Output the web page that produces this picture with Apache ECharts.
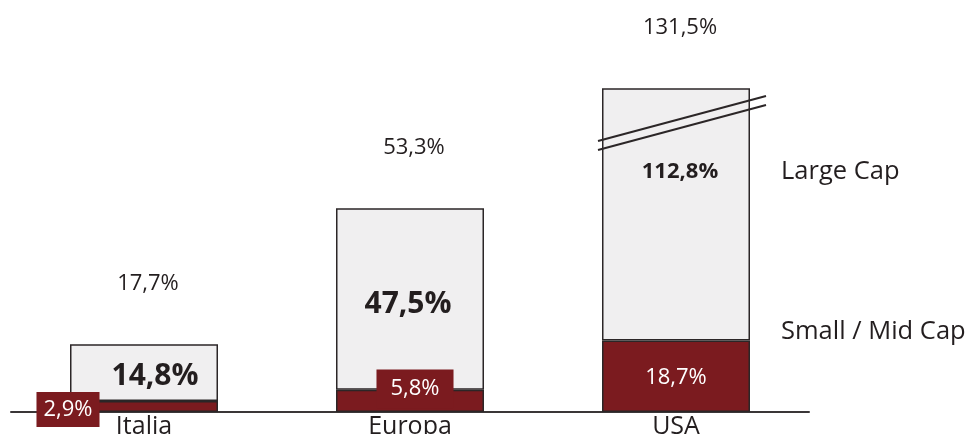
<!DOCTYPE html>
<html>
<head>
<meta charset="utf-8">
<script src="https://cdn.jsdelivr.net/npm/echarts@6/dist/echarts.min.js"></script>
<style>
  html, body { margin: 0; padding: 0; background: #ffffff; }
  #chart { width: 970px; height: 434px; }
</style>
</head>
<body>
<div id="chart"></div>
<script>
// Market capitalisation as % of GDP, split by company size
const categories = ['Italia', 'Europa', 'USA'];
const smallMidCap = [2.9, 5.8, 18.7];
const largeCap = [14.8, 47.5, 112.8];
const totalCap = [17.7, 53.3, 131.5];

const FONT = '"Open Sans", "DejaVu Sans", sans-serif';
const INK = '#231e1f';
const RED = '#7b1b1f';
const GREY = '#f0eff0';
const EDGE = '#2b2627';
const Y_MAX = 84.5;          // axis is broken above this value
const BAR_W = 148;

const pct = v => v.toFixed(1).replace('.', ',') + '%';

// per-bar label tweaks for the lower segment
const smallLabelStyle = [
  { backgroundColor: RED, padding: [4, 7, 4, 7], offset: [-76, 3] },
  { backgroundColor: RED, padding: [6, 14, 6, 14], offset: [5, -12] },
  { offset: [0, 1] }
];
// per-bar label tweaks for the upper segment
const largeLabelStyle = [
  { offset: [11, 4] },
  { offset: [-2, 5] },
  { fontSize: 22, offset: [4, -43] }
];

const chart = echarts.init(document.getElementById('chart'), null, { renderer: 'canvas' });

const legendText = { fontFamily: FONT, fontSize: 25.5, fontWeight: 500, color: INK };

chart.setOption({
  animation: false,
  backgroundColor: '#ffffff',
  grid: {
    left: 11, right: 161, top: 89, bottom: 22,
    containLabel: false, outerBoundsMode: 'none'
  },
  legend: [
    {
      data: ['Large Cap'], left: 771, top: 154, icon: 'none', itemWidth: 0, itemGap: 0,
      selectedMode: false, textStyle: legendText
    },
    {
      data: ['Small / Mid Cap'], left: 771, top: 314, icon: 'none', itemWidth: 0, itemGap: 0,
      selectedMode: false, textStyle: legendText
    }
  ],
  xAxis: {
    type: 'category',
    data: categories,
    axisLine: { lineStyle: { color: '#3a3637', width: 2 } },
    axisTick: { show: false },
    axisLabel: { fontFamily: FONT, fontSize: 25, fontWeight: 500, color: INK, margin: 2 }
  },
  yAxis: { type: 'value', min: 0, max: Y_MAX, show: false, splitLine: { show: false } },
  series: [
    {
      name: 'Small / Mid Cap',
      type: 'bar',
      stack: 'cap',
      barWidth: BAR_W,
      itemStyle: { color: RED, borderColor: EDGE, borderWidth: 1.5 },
      label: {
        show: true, position: 'inside', formatter: p => pct(p.value),
        fontFamily: FONT, fontSize: 22, fontWeight: 500, lineHeight: 27, color: '#ffffff'
      },
      data: smallMidCap.map((v, i) => ({ value: v, label: smallLabelStyle[i] }))
    },
    {
      name: 'Large Cap',
      type: 'bar',
      stack: 'cap',
      barWidth: BAR_W,
      itemStyle: { color: GREY, borderColor: EDGE, borderWidth: 1.5 },
      label: {
        show: true, position: 'inside', formatter: p => pct(p.value),
        fontFamily: FONT, fontSize: 30, fontWeight: 'bold', color: INK
      },
      data: largeCap.map((v, i) => ({ value: v, label: largeLabelStyle[i] }))
    },
    {
      // totals above each bar, plus break marks where the bar runs past the axis
      name: 'Totale',
      type: 'custom',
      z: 5,
      data: totalCap.map((v, i) => [i, v]),
      renderItem: function (params, api) {
        const total = api.value(1);
        const top = api.coord([api.value(0), Math.min(total, Y_MAX)]);
        const children = [{
          type: 'text',
          style: {
            text: pct(total), x: top[0] + 4, y: top[1] - 61,
            align: 'center', verticalAlign: 'middle',
            font: '500 22px ' + FONT, fill: INK
          }
        }];
        if (total > Y_MAX) {
          const x1 = top[0] - BAR_W / 2 - 4;
          const x2 = top[0] + BAR_W / 2 + 16;
          [0, 9].forEach(d => {
            children.push({
              type: 'line',
              shape: { x1: x1, y1: top[1] + 52 + d, x2: x2, y2: top[1] + 7 + d },
              style: { stroke: EDGE, lineWidth: 2 }
            });
          });
        }
        return { type: 'group', children: children };
      }
    }
  ]
});
</script>
</body>
</html>
